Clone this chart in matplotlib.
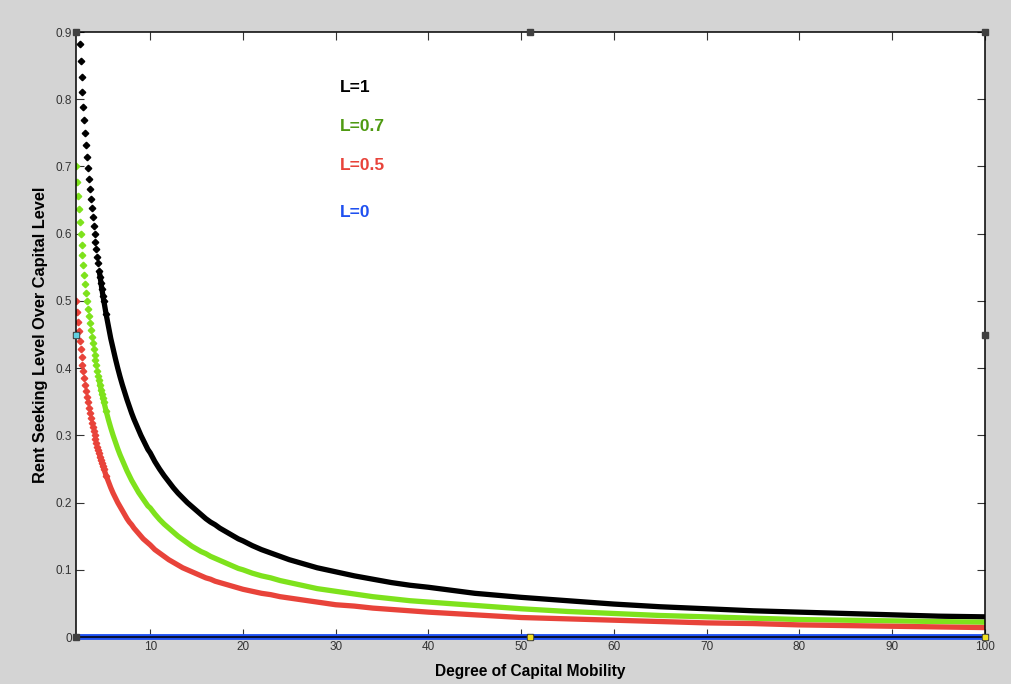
import numpy as np
import matplotlib
matplotlib.use("Agg")
import matplotlib.pyplot as plt

plt.rcParams["font.family"] = ["Liberation Sans", "DejaVu Sans"]

# ---- data ----
mobility = [2.0, 2.1, 2.2, 2.3, 2.4, 2.5, 2.6, 2.7, 2.8, 2.9,
            3.0, 3.1, 3.2, 3.3, 3.4, 3.5, 3.6, 3.7, 3.8, 3.9,
            4.0, 4.1, 4.2, 4.3, 4.4, 4.5, 4.6, 4.7, 4.8, 4.9,
            5.0, 5.25, 5.5, 5.75, 6.0, 6.25, 6.5, 6.75, 7.0, 7.25,
            7.5, 7.75, 8.0, 8.25, 8.5, 8.75, 9.0, 9.25, 9.5, 9.75,
            10, 10.5, 11, 11.5, 12, 12.5, 13, 13.5, 14, 14.5,
            15, 15.5, 16, 16.5, 17, 17.5, 18, 18.5, 19, 19.5,
            20, 21, 22, 23, 24, 25, 26, 27, 28, 29,
            30, 32, 34, 36, 38, 40, 45, 50, 55, 60,
            65, 70, 75, 80, 85, 90, 95, 100]

rent_L1 = [1.000, 0.968, 0.938, 0.909, 0.882, 0.857, 0.833, 0.811, 0.789, 0.769,
           0.750, 0.732, 0.714, 0.698, 0.682, 0.667, 0.652, 0.638, 0.625, 0.612,
           0.600, 0.588, 0.577, 0.566, 0.556, 0.545, 0.536, 0.526, 0.517, 0.508,
           0.500, 0.480, 0.462, 0.444, 0.429, 0.414, 0.400, 0.387, 0.375, 0.364,
           0.353, 0.343, 0.333, 0.324, 0.316, 0.308, 0.300, 0.293, 0.286, 0.279,
           0.274, 0.261, 0.250, 0.240, 0.231, 0.222, 0.214, 0.207, 0.200, 0.194,
           0.188, 0.182, 0.176, 0.171, 0.167, 0.162, 0.158, 0.154, 0.150, 0.146,
           0.143, 0.136, 0.130, 0.125, 0.120, 0.115, 0.111, 0.107, 0.103, 0.100,
           0.097, 0.091, 0.086, 0.081, 0.077, 0.074, 0.065, 0.059, 0.054, 0.049,
           0.045, 0.042, 0.039, 0.037, 0.035, 0.033, 0.031, 0.030]

rent_L07 = [0.700, 0.677, 0.656, 0.636, 0.618, 0.600, 0.583, 0.568, 0.553, 0.538,
            0.525, 0.512, 0.500, 0.488, 0.477, 0.467, 0.457, 0.447, 0.438, 0.429,
            0.420, 0.412, 0.404, 0.396, 0.389, 0.382, 0.375, 0.368, 0.362, 0.356,
            0.350, 0.336, 0.323, 0.311, 0.300, 0.290, 0.280, 0.271, 0.263, 0.255,
            0.247, 0.240, 0.233, 0.227, 0.221, 0.215, 0.210, 0.205, 0.200, 0.195,
            0.192, 0.183, 0.175, 0.168, 0.162, 0.156, 0.150, 0.145, 0.140, 0.135,
            0.131, 0.127, 0.124, 0.120, 0.117, 0.114, 0.111, 0.108, 0.105, 0.102,
            0.100, 0.095, 0.091, 0.088, 0.084, 0.081, 0.078, 0.075, 0.072, 0.070,
            0.068, 0.064, 0.060, 0.057, 0.054, 0.052, 0.047, 0.042, 0.038, 0.035,
            0.032, 0.030, 0.028, 0.026, 0.025, 0.024, 0.023, 0.022]

rent_L05 = [0.500, 0.484, 0.469, 0.455, 0.441, 0.429, 0.417, 0.405, 0.395, 0.385,
            0.375, 0.366, 0.357, 0.349, 0.341, 0.333, 0.326, 0.319, 0.313, 0.306,
            0.300, 0.294, 0.288, 0.283, 0.278, 0.273, 0.268, 0.263, 0.259, 0.254,
            0.250, 0.240, 0.231, 0.222, 0.214, 0.207, 0.200, 0.194, 0.188, 0.182,
            0.176, 0.171, 0.167, 0.162, 0.158, 0.154, 0.150, 0.146, 0.143, 0.140,
            0.137, 0.130, 0.125, 0.120, 0.115, 0.111, 0.107, 0.103, 0.100, 0.097,
            0.094, 0.091, 0.088, 0.086, 0.083, 0.081, 0.079, 0.077, 0.075, 0.073,
            0.071, 0.068, 0.065, 0.063, 0.060, 0.058, 0.056, 0.054, 0.052, 0.050,
            0.048, 0.046, 0.043, 0.041, 0.039, 0.037, 0.033, 0.029, 0.027, 0.025,
            0.023, 0.021, 0.020, 0.018, 0.017, 0.016, 0.015, 0.014]

rent_L0 = [0.0] * len(mobility)

labels = ["L=1", "L=0.7", "L=0.5", "L=0"]
label_y = [0.817, 0.760, 0.701, 0.632]
line_colors = ["#000000", "#7ee21c", "#e8433a", "#1f50f0"]
text_colors = ["#000000", "#4f9a12", "#e8433a", "#1f50f0"]

x_ticks = [10, 20, 30, 40, 50, 60, 70, 80, 90, 100]
y_ticks = [0, 0.1, 0.2, 0.3, 0.4, 0.5, 0.6, 0.7, 0.8, 0.9]
y_tick_labels = ["0", "0.1", "0.2", "0.3", "0.4", "0.5", "0.6", "0.7", "0.8", "0.9"]

# ---- figure ----
fig = plt.figure(figsize=(10.12, 6.84), dpi=100, facecolor="#d4d4d4")
ax = fig.add_axes([0.0751, 0.0687, 0.8982, 0.8845])
ax.set_facecolor("white")

x = np.array(mobility)
series = [rent_L1, rent_L07, rent_L05]
sparse = x < 5.5
dense = x >= 4.5
for ys, c in zip(series, line_colors[:3]):
    ys = np.array(ys)
    ax.plot(x[sparse], ys[sparse], ls="none", marker="D", ms=3.3, color=c, mec=c, zorder=3)
    ax.plot(x[dense], ys[dense], ls="-", lw=3.8, color=c, solid_capstyle="butt",
            solid_joinstyle="round", zorder=3)

ax.plot(x, rent_L0, ls="-", lw=4.2, color=line_colors[3], zorder=2, clip_on=False)

for lab, yy, tc in zip(labels, label_y, text_colors):
    ax.text(30.5, yy, lab, color=tc, fontsize=12.5, fontweight="bold",
            ha="left", va="center")

ax.set_xlim(2, 100)
ax.set_ylim(0, 0.9)
ax.set_xticks(x_ticks)
ax.set_yticks(y_ticks)
ax.set_yticklabels(y_tick_labels)
ax.tick_params(direction="in", length=6, width=0.8, top=True, right=True,
               labelsize=8.5, labelcolor="#333333", color="#333333", pad=3)
for s in ax.spines.values():
    s.set_color("black")
    s.set_linewidth(1.1)
    s.set_zorder(4)

ax.set_xlabel("Degree of Capital Mobility", fontsize=11.2, fontweight="bold", labelpad=8)
ax.set_ylabel("Rent Seeking Level Over Capital Level", fontsize=11.8, fontweight="bold", labelpad=5)

# MATLAB selection handles
handles = [(0, 1), (0.5, 1), (1, 1), (0, 0.5), (1, 0.5), (0, 0), (0.5, 0), (1, 0)]
for hx, hy in handles:
    ax.plot(hx, hy, marker="s", ms=5, color="#404040", transform=ax.transAxes,
            clip_on=False, zorder=6)
ax.plot(0.5, 0, marker="s", ms=3, color="#f2e020", transform=ax.transAxes, clip_on=False, zorder=7)
ax.plot(1, 0, marker="s", ms=3, color="#f2e020", transform=ax.transAxes, clip_on=False, zorder=7)
ax.plot(0, 0.5, marker="s", ms=3, color="#60d0e0", transform=ax.transAxes, clip_on=False, zorder=7)

fig.savefig("out.png", dpi=100, facecolor=fig.get_facecolor())
